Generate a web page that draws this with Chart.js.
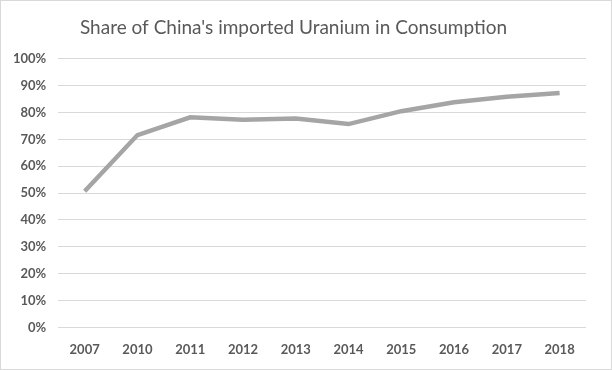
<!DOCTYPE html>
<html>
<head>
<meta charset="utf-8">
<script src="https://cdn.jsdelivr.net/npm/chart.js@4"></script>
<style>
  html, body { margin: 0; padding: 0; background: #fff; }
  #wrap { width: 612px; height: 370px; box-sizing: border-box; border: 1px solid #d9d9d9; }
</style>
</head>
<body>
<div id="wrap"><canvas id="chart" width="610" height="368"></canvas></div>
<script>
// data
const years = ['2007', '2010', '2011', '2012', '2013', '2014', '2015', '2016', '2017', '2018'];
const importShare = [50.7, 71.6, 78.2, 77.3, 77.8, 75.7, 80.5, 83.8, 85.9, 87.3];
const yTicks = [0, 10, 20, 30, 40, 50, 60, 70, 80, 90, 100];

const textGrey = '#595959';
const fontFamily = 'Lato, "Open Sans", "Liberation Sans", sans-serif';

new Chart(document.getElementById('chart').getContext('2d'), {
    type: 'line',
    data: {
        labels: years,
        datasets: [{
            data: importShare,
            borderColor: '#a5a5a5',
            borderWidth: 4.5,
            pointRadius: 0,
            tension: 0,
            fill: false
        }]
    },
    options: {
        responsive: false,
        animation: false,
        layout: { padding: { left: 0, right: 25, top: 0, bottom: 4 } },
        plugins: {
            legend: { display: false },
            tooltip: { enabled: false },
            title: {
                display: true,
                text: "Share of China's imported Uranium in Consumption",
                color: textGrey,
                font: { family: fontFamily, size: 19, weight: 'normal' },
                padding: { top: 15, bottom: 20 }
            }
        },
        scales: {
            x: {
                offset: true,
                grid: { display: false },
                border: { display: false },
                ticks: {
                    color: textGrey,
                    font: { family: fontFamily, size: 13, weight: 'bold' },
                    padding: 7,
                    maxRotation: 0
                }
            },
            y: {
                min: 0,
                max: 100,
                afterBuildTicks: axis => { axis.ticks = yTicks.map(v => ({ value: v })); },
                grid: { color: '#d9d9d9', lineWidth: 1, drawTicks: false },
                border: { display: false },
                ticks: {
                    color: textGrey,
                    font: { family: fontFamily, size: 13, weight: 'bold' },
                    padding: 12,
                    callback: v => v + '%'
                }
            }
        }
    }
});
</script>
</body>
</html>
